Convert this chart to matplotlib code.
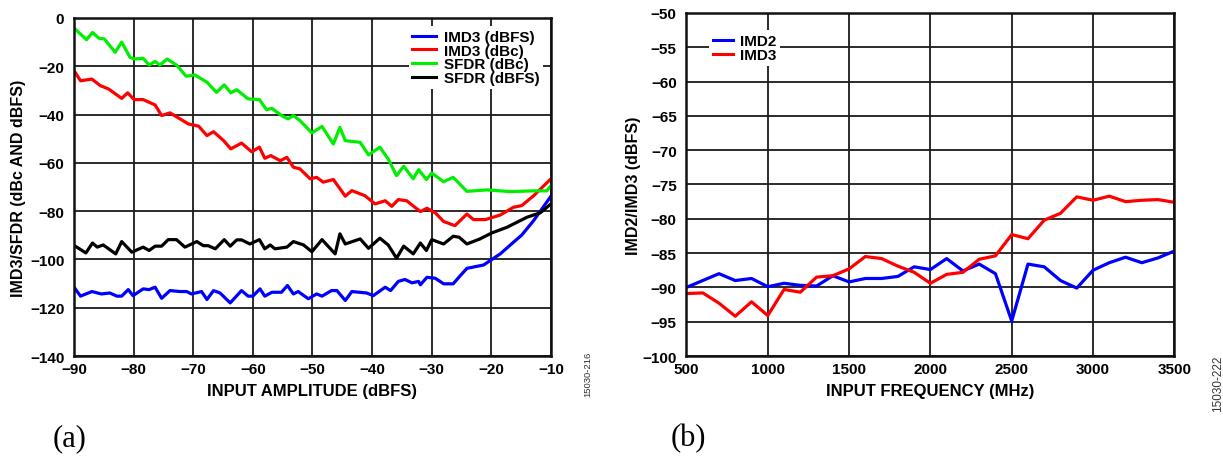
import matplotlib
matplotlib.use("Agg")
from matplotlib import pyplot as plt

plt.rcParams['font.family'] = ['Liberation Sans', 'DejaVu Sans']
plt.rcParams['font.weight'] = 'bold'

# (a) IMD3/SFDR vs input amplitude
sfdr_dbc_x = [-89.8, -87.9, -86.9, -85.8, -84.9, -83.1, -82.0, -80.6, -79.9, -78.4, -77.4, -76.4,
              -75.6, -74.4, -72.8, -71.2, -69.7, -67.7, -66.1, -64.8, -63.7, -62.7, -60.8, -58.9,
              -57.7, -56.8, -55.2, -54.1, -53.2, -52.1, -50.1, -48.4, -46.5, -45.4, -44.5, -42.0,
              -40.6, -38.7, -37.3, -35.9, -34.7, -33.1, -32.2, -30.9, -30.0, -28.0, -26.4, -24.1,
              -20.8, -16.8, -12.9, -10.7, -10.0]
sfdr_dbc = [-4.6, -9.0, -6.0, -8.4, -8.7, -14.2, -10.0, -16.3, -17.0, -16.7, -19.5, -18.0,
            -19.5, -17.0, -19.5, -24.1, -23.6, -26.6, -30.8, -27.7, -31.0, -29.7, -33.5, -33.8,
            -38.0, -37.4, -40.4, -41.8, -40.4, -42.5, -47.6, -44.9, -52.2, -45.3, -50.8, -51.5,
            -56.7, -53.5, -58.4, -65.3, -61.4, -66.6, -62.8, -66.9, -64.2, -67.8, -66.0, -71.8,
            -71.2, -71.9, -71.6, -71.6, -69.4]

imd3_dbc_x = [-90.0, -88.9, -87.0, -85.6, -84.2, -82.0, -81.0, -79.9, -78.4, -76.4, -75.3, -73.9,
              -70.8, -69.1, -67.7, -66.6, -64.9, -63.7, -61.9, -60.2, -58.9, -58.0, -57.0, -55.4,
              -54.3, -53.2, -52.1, -50.4, -49.3, -48.2, -46.5, -44.5, -43.4, -41.2, -39.5, -37.8,
              -36.7, -35.6, -34.2, -31.9, -30.8, -29.4, -28.0, -26.1, -24.1, -23.0, -21.0, -18.5,
              -16.3, -14.9, -12.9, -10.0]
imd3_dbc = [-21.8, -26.0, -25.3, -28.0, -29.4, -33.3, -31.0, -33.8, -33.8, -36.0, -40.4, -39.3,
            -43.9, -44.8, -48.7, -47.1, -50.8, -54.2, -51.8, -55.4, -53.5, -58.1, -57.0, -59.1,
            -57.7, -61.8, -62.5, -66.6, -66.0, -68.0, -66.9, -73.8, -71.5, -73.6, -77.0, -75.7,
            -78.0, -75.2, -75.7, -80.2, -78.8, -80.7, -84.3, -86.0, -81.2, -83.5, -83.5, -81.6,
            -78.4, -77.7, -73.6, -66.6]

sfdr_dbfs_x = [-89.8, -88.0, -86.9, -86.1, -85.1, -83.0, -82.0, -80.3, -78.4, -77.4, -76.4, -75.3,
               -74.2, -72.8, -71.4, -69.4, -68.3, -67.5, -66.3, -64.8, -63.8, -62.7, -61.9, -60.5,
               -58.9, -58.0, -57.1, -56.3, -54.3, -53.2, -51.5, -50.1, -48.4, -46.2, -45.4, -44.5,
               -42.0, -40.6, -38.7, -37.3, -35.9, -34.7, -33.1, -31.9, -30.9, -30.0, -28.0, -26.4,
               -25.4, -24.1, -21.9, -19.9, -17.4, -14.0, -11.8, -10.0]
sfdr_dbfs = [-94.5, -97.3, -93.2, -94.9, -94.0, -97.7, -92.6, -97.0, -94.9, -96.3, -94.5, -94.5,
             -91.8, -91.8, -94.9, -92.6, -94.3, -94.3, -95.6, -91.8, -94.5, -91.9, -91.9, -93.6,
             -91.8, -95.6, -94.0, -95.6, -94.9, -92.6, -94.0, -96.8, -91.8, -97.7, -89.4, -93.6,
             -91.5, -95.4, -91.2, -94.0, -99.5, -94.5, -97.7, -93.2, -96.3, -91.8, -93.6, -90.4,
             -90.8, -93.6, -91.5, -89.0, -86.7, -82.5, -80.7, -77.0]

imd3_dbfs_x = [-90.0, -88.9, -87.0, -85.4, -84.0, -82.8, -82.0, -80.9, -80.1, -78.4, -77.4, -76.4,
               -75.3, -73.9, -72.2, -71.1, -70.3, -68.6, -67.7, -66.6, -65.5, -63.8, -61.9, -60.8,
               -60.0, -58.8, -58.0, -56.8, -55.2, -54.2, -53.2, -52.4, -50.7, -49.3, -48.4, -46.8,
               -45.9, -44.5, -43.4, -40.9, -39.8, -37.8, -36.9, -35.6, -34.5, -33.3, -32.2, -31.9,
               -30.8, -29.4, -28.0, -26.4, -25.2, -24.1, -21.3, -18.5, -16.3, -14.9, -12.9, -10.0]
imd3_dbfs = [-111.5, -115.2, -113.3, -114.3, -113.9, -115.2, -115.2, -112.5, -115.0, -112.2, -112.5, -111.5,
             -116.1, -112.9, -113.3, -113.3, -114.3, -113.3, -116.6, -112.9, -113.9, -118.0, -112.9, -115.2,
             -115.2, -112.2, -115.2, -113.6, -113.6, -110.8, -114.3, -113.3, -116.3, -114.3, -115.2, -112.9,
             -112.9, -117.0, -113.3, -113.9, -115.0, -111.5, -112.9, -109.1, -108.3, -109.7, -109.1, -110.5,
             -107.4, -107.8, -110.1, -110.1, -106.7, -103.7, -102.3, -97.7, -92.9, -89.9, -83.9, -73.8]

# (b) IMD2/IMD3 vs input frequency
freq_mhz = list(range(500, 3501, 100))
imd2 = [-90.0, -89.0, -88.0, -89.0, -88.7, -89.9, -89.4, -89.7, -89.8, -88.3, -89.2, -88.7, -88.7,
        -88.4, -87.0, -87.4, -85.8, -87.6, -86.6, -88.0, -94.9, -86.6, -87.0, -89.0, -90.1, -87.5,
        -86.4, -85.6, -86.4, -85.7, -84.7]
imd3 = [-90.9, -90.8, -92.3, -94.2, -92.1, -94.1, -90.3, -90.7, -88.5, -88.3, -87.3, -85.5, -85.8,
        -86.9, -87.8, -89.4, -88.1, -87.8, -85.9, -85.4, -82.3, -82.9, -80.2, -79.2, -76.8, -77.3,
        -76.7, -77.5, -77.3, -77.2, -77.6]

fig = plt.figure(figsize=(12.23, 4.6), dpi=100)
ax1 = fig.add_axes([0.0605, 0.2239, 0.390, 0.7348])
ax2 = fig.add_axes([0.5613, 0.2239, 0.3989, 0.7457])

lw = 2.3
ax1.plot(imd3_dbfs_x, imd3_dbfs, color='#0000ff', lw=lw, label='IMD3 (dBFS)')
ax1.plot(imd3_dbc_x, imd3_dbc, color='#ff0000', lw=lw, label='IMD3 (dBc)')
ax1.plot(sfdr_dbc_x, sfdr_dbc, color='#00ee00', lw=lw, label='SFDR (dBc)')
ax1.plot(sfdr_dbfs_x, sfdr_dbfs, color='#000000', lw=lw, label='SFDR (dBFS)')
ax1.set_xlim(-90, -10)
ax1.set_ylim(-140, 0)
ax1.set_xticks(range(-90, -9, 10))
ax1.set_yticks(range(-140, 1, 20))
ax1.set_xlabel('INPUT AMPLITUDE (dBFS)', fontsize=12, fontweight='bold', labelpad=5)
ax1.set_ylabel('IMD3/SFDR (dBc AND dBFS)', fontsize=11.5, fontweight='bold', labelpad=3)

ax2.plot(freq_mhz, imd2, color='#0000ff', lw=lw, label='IMD2')
ax2.plot(freq_mhz, imd3, color='#ff0000', lw=lw, label='IMD3')
ax2.set_xlim(500, 3500)
ax2.set_ylim(-100, -50)
ax2.set_xticks(range(500, 3501, 500))
ax2.set_yticks(range(-100, -49, 5))
ax2.set_xlabel('INPUT FREQUENCY (MHz)', fontsize=12, fontweight='bold', labelpad=5)
ax2.set_ylabel('IMD2/IMD3 (dBFS)', fontsize=11.5, fontweight='bold', labelpad=1)

for ax in (ax1, ax2):
    ax.grid(True, color='#1a1a1a', lw=1.3)
    ax.set_axisbelow(True)
    ax.tick_params(length=0, labelsize=11)
    ax.tick_params(axis='x', pad=4)
    ax.tick_params(axis='y', pad=7)
    for lab in ax.get_xticklabels() + ax.get_yticklabels():
        lab.set_fontweight('bold')
    for s in ax.spines.values():
        s.set_linewidth(1.8)
        s.set_color('#111111')

leg1 = ax1.legend(loc='upper right', bbox_to_anchor=(0.99, 0.985), fontsize=11, frameon=True,
                  handlelength=1.55, handletextpad=0.5, borderpad=0.25, labelspacing=-0.02,
                  borderaxespad=0.2, fancybox=False, framealpha=1)
leg1.get_frame().set_edgecolor('none')
leg2 = ax2.legend(loc='upper left', bbox_to_anchor=(0.04, 0.958), fontsize=11, frameon=True,
                  handlelength=1.35, handletextpad=0.4, borderpad=0.25, labelspacing=-0.02,
                  borderaxespad=0.2, fancybox=False, framealpha=1)
leg2.get_frame().set_edgecolor('none')
for leg in (leg1, leg2):
    for t in leg.get_texts():
        t.set_fontweight('bold')
    for h in leg.get_lines():
        h.set_linewidth(2.2)

fig.text(0.481, 0.137, '15030-216', rotation=90, fontsize=6.8, fontweight='normal', color='#333333',
         ha='center', va='bottom')
fig.text(0.996, 0.104, '15030-222', rotation=90, fontsize=8.5, fontweight='normal', color='#333333',
         ha='center', va='bottom')
fig.text(0.043, 0.03, '(a)', fontsize=22, fontweight='normal', family='Liberation Serif')
fig.text(0.548, 0.03, '(b)', fontsize=22, fontweight='normal', family='Liberation Serif')

fig.savefig('out.png', dpi=100)
